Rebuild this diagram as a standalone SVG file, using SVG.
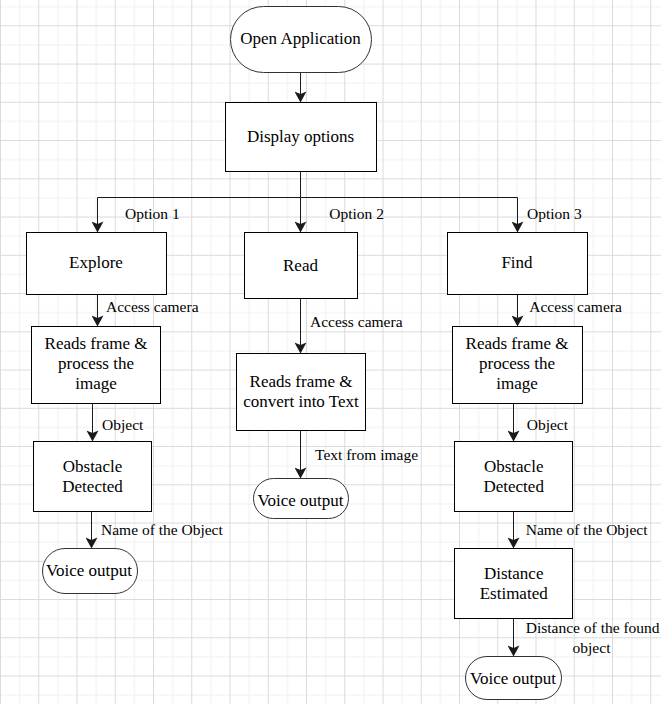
<svg xmlns="http://www.w3.org/2000/svg" width="661" height="704" viewBox="0 0 661 704">
<style>
  .box { fill: #ffffff; stroke: #000000; stroke-width: 1; }
  .term { fill: #ffffff; stroke: #333333; stroke-width: 1; }
  text { font-family: 'Liberation Serif', 'DejaVu Serif', 'Times New Roman', serif; fill: #000000; }
  .nt { font-size: 17px; text-anchor: middle; }
  .lt { font-size: 15.5px; }
  .edge { fill: none; stroke: #1a1a1a; stroke-width: 1; marker-end: url(#arr); }
</style>
<defs>
  <pattern id="grid" patternUnits="userSpaceOnUse" x="0" y="25.3" width="38.25" height="38.25">
    <rect x="19.125" y="0" width="1" height="38.25" fill="#efefef"/>
    <rect x="0" y="19.125" width="38.25" height="1" fill="#efefef"/>
    <rect x="0" y="0" width="1" height="38.25" fill="#dadada"/>
    <rect x="0" y="0" width="38.25" height="1" fill="#dadada"/>
  </pattern>
  <marker id="arr" markerUnits="userSpaceOnUse" markerWidth="12" markerHeight="12" viewBox="0 0 11 12" refX="11" refY="6" orient="auto">
    <path d="M0,0 L11,6 L0,12 L2.5,6 Z" fill="#1a1a1a"/>
  </marker>
</defs>
<rect x="0" y="0" width="661" height="704" fill="#ffffff"/>
<rect x="0" y="0" width="661" height="704" fill="url(#grid)"/>

<g id="connectors" font-family="Liberation Serif, DejaVu Serif, serif">
  <path class="edge" d="M300.5,72.5 V102.5"/>
  <path class="edge" d="M300.5,171.5 V232.5"/>
  <path class="edge" d="M300.5,197.5 H97.5 V232.5"/>
  <path class="edge" d="M300.5,197.5 H517.5 V232.5"/>
  <path class="edge" d="M97.5,294.5 V326.5"/>
  <path class="edge" d="M92.5,403.5 V441.5"/>
  <path class="edge" d="M91.5,511.5 V548.5"/>
  <path class="edge" d="M300.5,298.5 V353.5"/>
  <path class="edge" d="M300.5,430.5 V478.5"/>
  <path class="edge" d="M517.5,294.5 V326.5"/>
  <path class="edge" d="M513.5,403.5 V441.5"/>
  <path class="edge" d="M513.5,511.5 V548.5"/>
  <path class="edge" d="M513.5,618.5 V656.5"/>
  <text class="lt" x="125" y="219">Option 1</text>
  <text class="lt" x="329.3" y="219">Option 2</text>
  <text class="lt" x="527" y="219">Option 3</text>
  <text class="lt" x="106" y="312.3">Access camera</text>
  <text class="lt" x="310" y="326.8">Access camera</text>
  <text class="lt" x="529.3" y="312.3">Access camera</text>
  <text class="lt" x="102" y="430">Object</text>
  <text class="lt" x="526.7" y="430">Object</text>
  <text class="lt" x="101" y="535">Name of the Object</text>
  <text class="lt" x="525.7" y="535">Name of the Object</text>
  <text class="lt" x="315" y="460.3">Text from image</text>
  <text class="lt" x="592.7" y="633.3" text-anchor="middle">Distance of the found</text>
  <text class="lt" x="591.5" y="652.8" text-anchor="middle">object</text>
</g>

<g id="open-application">
  <rect class="term" x="230.5" y="6.5" width="141" height="66" rx="33" ry="33"/>
  <text class="nt" x="300.5" y="44.3">Open Application</text>
</g>
<g id="display-options">
  <rect class="box" x="225.5" y="102.5" width="151" height="69"/>
  <text class="nt" x="300.5" y="141.7">Display options</text>
</g>
<g id="explore">
  <rect class="box" x="26.5" y="232.5" width="140" height="62"/>
  <text class="nt" x="96" y="268.3">Explore</text>
</g>
<g id="read">
  <rect class="box" x="244.5" y="232.5" width="113" height="66"/>
  <text class="nt" x="300.5" y="270.7">Read</text>
</g>
<g id="find">
  <rect class="box" x="447.5" y="232.5" width="140" height="62"/>
  <text class="nt" x="517" y="267.7">Find</text>
</g>
<g id="reads-frame-left">
  <rect class="box" x="31.5" y="326.5" width="129" height="77"/>
  <text class="nt" x="96" y="349">Reads frame &amp;</text>
  <text class="nt" x="96" y="369">process the</text>
  <text class="nt" x="96" y="389.3">image</text>
</g>
<g id="reads-frame-middle">
  <rect class="box" x="236.5" y="353.5" width="129" height="77"/>
  <text class="nt" x="301" y="387.3">Reads frame &amp;</text>
  <text class="nt" x="301" y="406.7">convert into Text</text>
</g>
<g id="reads-frame-right">
  <rect class="box" x="452.5" y="326.5" width="130" height="77"/>
  <text class="nt" x="517" y="349">Reads frame &amp;</text>
  <text class="nt" x="517" y="369">process the</text>
  <text class="nt" x="517" y="389.3">image</text>
</g>
<g id="obstacle-left">
  <rect class="box" x="33.5" y="441.5" width="118" height="70"/>
  <text class="nt" x="92.5" y="471.7">Obstacle</text>
  <text class="nt" x="92.5" y="491.8">Detected</text>
</g>
<g id="obstacle-right">
  <rect class="box" x="454.5" y="441.5" width="118" height="70"/>
  <text class="nt" x="513.7" y="471.7">Obstacle</text>
  <text class="nt" x="513.7" y="491.8">Detected</text>
</g>
<g id="distance-estimated">
  <rect class="box" x="454.5" y="548.5" width="118" height="70"/>
  <text class="nt" x="513.7" y="579">Distance</text>
  <text class="nt" x="513.7" y="599.3">Estimated</text>
</g>
<g id="voice-left">
  <rect class="term" x="42.5" y="548.5" width="95" height="45" rx="22.5" ry="22.5"/>
  <text class="nt" x="89" y="576">Voice output</text>
</g>
<g id="voice-middle">
  <rect class="term" x="253.5" y="478.5" width="95" height="40" rx="20" ry="20"/>
  <text class="nt" x="300.5" y="506">Voice output</text>
</g>
<g id="voice-right">
  <rect class="term" x="465.5" y="656.5" width="96" height="43" rx="21.5" ry="21.5"/>
  <text class="nt" x="513" y="684">Voice output</text>
</g>
</svg>
